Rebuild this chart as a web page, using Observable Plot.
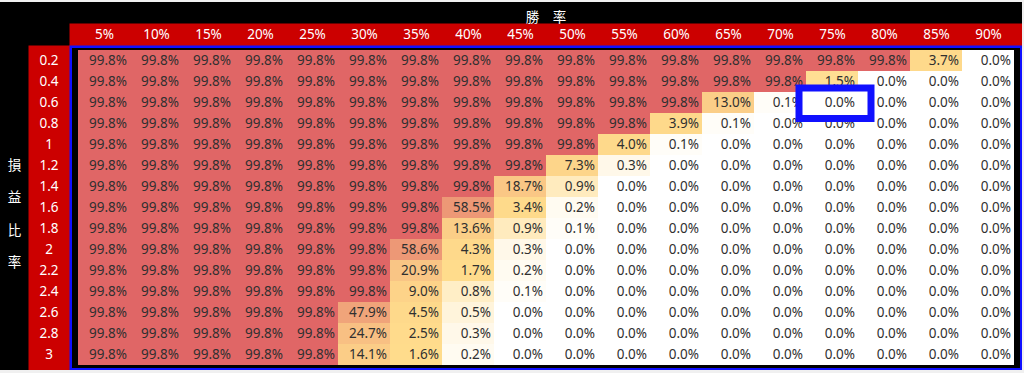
<!DOCTYPE html>
<html>
<head>
<meta charset="utf-8">
<script src="https://cdn.jsdelivr.net/npm/d3@7"></script>
<script src="https://cdn.jsdelivr.net/npm/@observablehq/plot@0.6"></script>
<style>
  html, body { margin: 0; padding: 0; background: #f0f0f0; }
  #chart { position: absolute; left: 0; top: 2px; }
  #chart svg { display: block; }
</style>
</head>
<body>
<div id="chart"></div>
<script>
// Column categories (勝率) and row categories (損益比率)
const columns = ["5%","10%","15%","20%","25%","30%","35%","40%","45%","50%","55%","60%","65%","70%","75%","80%","85%","90%"];
const rows = ["0.2","0.4","0.6","0.8","1","1.2","1.4","1.6","1.8","2","2.2","2.4","2.6","2.8","3"];
const xTitle = "勝　率";
const yTitle = "損\n益\n比\n率";

// values in percent, one array per row
const r02 = [99.8,99.8,99.8,99.8,99.8,99.8,99.8,99.8,99.8,99.8,99.8,99.8,99.8,99.8,99.8,99.8,3.7,0.0];
const r04 = [99.8,99.8,99.8,99.8,99.8,99.8,99.8,99.8,99.8,99.8,99.8,99.8,99.8,99.8,1.5,0.0,0.0,0.0];
const r06 = [99.8,99.8,99.8,99.8,99.8,99.8,99.8,99.8,99.8,99.8,99.8,99.8,13.0,0.1,0.0,0.0,0.0,0.0];
const r08 = [99.8,99.8,99.8,99.8,99.8,99.8,99.8,99.8,99.8,99.8,99.8,3.9,0.1,0.0,0.0,0.0,0.0,0.0];
const r10 = [99.8,99.8,99.8,99.8,99.8,99.8,99.8,99.8,99.8,99.8,4.0,0.1,0.0,0.0,0.0,0.0,0.0,0.0];
const r12 = [99.8,99.8,99.8,99.8,99.8,99.8,99.8,99.8,99.8,7.3,0.3,0.0,0.0,0.0,0.0,0.0,0.0,0.0];
const r14 = [99.8,99.8,99.8,99.8,99.8,99.8,99.8,99.8,18.7,0.9,0.0,0.0,0.0,0.0,0.0,0.0,0.0,0.0];
const r16 = [99.8,99.8,99.8,99.8,99.8,99.8,99.8,58.5,3.4,0.2,0.0,0.0,0.0,0.0,0.0,0.0,0.0,0.0];
const r18 = [99.8,99.8,99.8,99.8,99.8,99.8,99.8,13.6,0.9,0.1,0.0,0.0,0.0,0.0,0.0,0.0,0.0,0.0];
const r20 = [99.8,99.8,99.8,99.8,99.8,99.8,58.6,4.3,0.3,0.0,0.0,0.0,0.0,0.0,0.0,0.0,0.0,0.0];
const r22 = [99.8,99.8,99.8,99.8,99.8,99.8,20.9,1.7,0.2,0.0,0.0,0.0,0.0,0.0,0.0,0.0,0.0,0.0];
const r24 = [99.8,99.8,99.8,99.8,99.8,99.8,9.0,0.8,0.1,0.0,0.0,0.0,0.0,0.0,0.0,0.0,0.0,0.0];
const r26 = [99.8,99.8,99.8,99.8,99.8,47.9,4.5,0.5,0.0,0.0,0.0,0.0,0.0,0.0,0.0,0.0,0.0,0.0];
const r28 = [99.8,99.8,99.8,99.8,99.8,24.7,2.5,0.3,0.0,0.0,0.0,0.0,0.0,0.0,0.0,0.0,0.0,0.0];
const r30 = [99.8,99.8,99.8,99.8,99.8,14.1,1.6,0.2,0.0,0.0,0.0,0.0,0.0,0.0,0.0,0.0,0.0,0.0];
const values = [r02,r04,r06,r08,r10,r12,r14,r16,r18,r20,r22,r24,r26,r28,r30];

// highlighted cell
const highlightRow = "0.6";
const highlightCol = "75%";

const data = rows.flatMap((r, i) => columns.map((c, j) => ({row: r, col: c, value: values[i][j]})));
const hl = data.filter(d => d.row === highlightRow && d.col === highlightCol);

const W = 1022, H = 368, mT = 43, mL = 69, mR = 0, mB = 0;
const frameW = W - mL - mR, frameH = H - mT - mB;
const bandW = frameW / columns.length;
const headerH = 22, labelW = 41;
const red = "#cc0000";
const blue = "#1010ff";
const fs = 13.5;
const fmt = d => d.value.toFixed(1) + "%";
const font = "'Noto Sans', 'Noto Sans CJK TC', sans-serif";

const chart = Plot.plot({
  width: W, height: H,
  marginTop: mT, marginLeft: mL, marginRight: mR, marginBottom: mB,
  style: {background: "#000", fontFamily: font, fontSize: fs + "px"},
  x: {domain: columns, padding: 0, label: null},
  y: {domain: rows, padding: 0, label: null},
  color: {type: "linear", domain: [0, 1.6, 99.8], range: ["#ffffff", "#ffdc8c", "#e06666"], interpolate: "rgb"},
  marks: [
    // red header band and row-label band (tucked 1px under the grid)
    Plot.frame({fill: red, insetTop: -headerH, insetBottom: frameH - 1}),
    Plot.frame({fill: red, insetLeft: -labelW, insetRight: frameW - 1}),
    Plot.cell(data, {x: "col", y: "row", fill: "value"}),
    Plot.text(data, {x: "col", y: "row", text: fmt, textAnchor: "end", dx: bandW / 2 - 4, fill: "#303030", fontSize: fs}),
    Plot.frame({stroke: blue, strokeWidth: 2.5, inset: 1.25}),
    Plot.axisX({anchor: "top", tickSize: 0, tickPadding: headerH / 2, lineAnchor: "middle", fill: "white", fontSize: fs, label: null}),
    Plot.axisY({anchor: "left", tickSize: 0, tickPadding: labelW / 2, textAnchor: "middle", fill: "white", fontSize: fs, label: null}),
    Plot.text([xTitle], {frameAnchor: "top", dy: -33, fill: "white", fontSize: fs, textAnchor: "middle"}),
    Plot.text([yTitle], {frameAnchor: "left", dx: -55, lineHeight: 2.4, fill: "white", fontSize: fs, textAnchor: "middle"}),
    // highlight box
    Plot.cell(hl, {x: "col", y: "row", fill: "white", stroke: blue, strokeWidth: 7,
      insetLeft: -7, insetRight: -13, insetTop: -4, insetBottom: -5.5}),
    Plot.text(hl, {x: "col", y: "row", text: fmt, textAnchor: "end", dx: bandW / 2 - 4, fill: "#303030", fontSize: fs})
  ]
});
document.getElementById("chart").appendChild(chart);
</script>
</body>
</html>
